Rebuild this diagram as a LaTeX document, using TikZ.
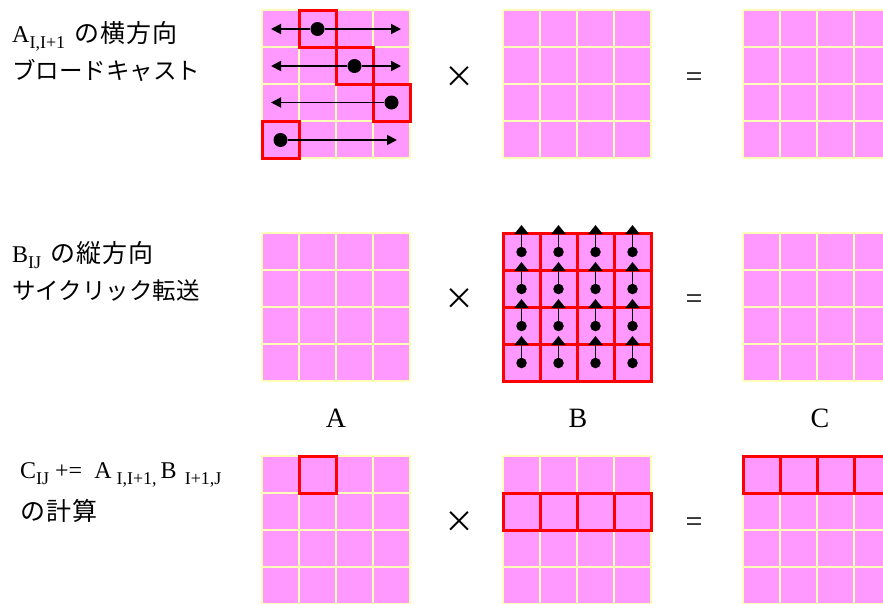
\documentclass[tikz,border=0pt]{standalone}
\usepackage{fontspec}
\setmainfont{Liberation Serif}
\newfontfamily\jp{Noto Sans CJK JP}
\newfontfamily\jpw[LetterSpace=5]{Noto Sans CJK JP}
\usetikzlibrary{arrows.meta}
\definecolor{cellpink}{HTML}{FF99FF}
\definecolor{gridyel}{HTML}{FFFFB8}
\definecolor{hired}{HTML}{FF0000}
\newcommand\lsub[1]{\raisebox{-6pt}{\fontsize{18}{18}\selectfont #1}}
\newcommand\pinkmat[2]{%
  \fill[cellpink] (#1,#2) rectangle ++(148,148);
  \foreach \k in {0,...,4} {
    \draw[gridl] (#1+37*\k,#2) -- ++(0,148);
    \draw[gridl] (#1,#2+37*\k) -- ++(148,0);
  }%
}
\tikzset{
  gridl/.style={draw=gridyel, line width=1.3pt},
  redbox/.style={draw=hired, line width=3pt},
  bigdot/.style={circle, fill=black, inner sep=0pt, minimum size=14pt},
  smalldot/.style={circle, fill=black, inner sep=0pt, minimum size=10.5pt},
  harrow/.style={-{Triangle[length=10pt,width=10pt]}, line width=1.8pt},
  varrow/.style={-{Triangle[length=9pt,width=14pt]}, line width=1.8pt},
  lbl/.style={font=\fontsize{28}{30}\selectfont, inner sep=0pt},
  optext/.style={inner sep=0pt},
  desc/.style={anchor=base west, inner sep=0pt, align=left},
}
\begin{document}
\begin{tikzpicture}[x=1pt,y=-1pt]
\useasboundingbox (0,0) rectangle (883,603);
\clip (0,0) rectangle (883,603);
\fill[white] (0,0) rectangle (883,603);
% ---------- matrices ----------
\foreach \yy in {10,233,456} {
  \pinkmat{262}{\yy}
  \pinkmat{503}{\yy}
  \pinkmat{743}{\yy}
}
% ---------- row 1: broadcast of A ----------
\draw[redbox] (299,10) rectangle (336,47);
\draw[redbox] (336,47) rectangle (373,84);
\draw[redbox] (373,84) rectangle (410,121);
\draw[redbox] (262,121) rectangle (299,158);
\node[bigdot] (d1) at (317.5,29) {};
\node[bigdot] (d2) at (354.5,66) {};
\node[bigdot] (d3) at (391.5,102.5) {};
\node[bigdot] (d4) at (280.5,140) {};
\coordinate (l1) at (271,29);  \coordinate (r1) at (401,29);
\coordinate (l2) at (271,66);  \coordinate (r2) at (401,66);
\coordinate (l3) at (271,102.5);
\coordinate (r4) at (397,140);
\draw[harrow] (d1) -- (l1);
\draw[harrow] (d1) -- (r1);
\draw[harrow] (d2) -- (l2);
\draw[harrow] (d2) -- (r2);
\draw[harrow] (d3) -- (l3);
\draw[harrow] (d4) -- (r4);
% ---------- row 2: cyclic shift of B ----------
\foreach \c in {0,...,3} {
  \foreach \r in {0,...,3} {
    \draw[redbox] (503+37*\c,233+37*\r) rectangle ++(37,37);
  }
}
\foreach \c in {0,...,3} {
  \foreach \r in {0,...,3} {
    \node[smalldot] (b\c\r) at (521.5+37*\c,252+37*\r) {};
    \coordinate (t\c\r) at (521.5+37*\c,225+37*\r);
    \draw[varrow] (b\c\r) -- (t\c\r);
  }
}
% ---------- row 3: computation ----------
\draw[redbox] (299,456) rectangle (336,493);
\foreach \c in {0,...,3} {
  \draw[redbox] (503+37*\c,493) rectangle ++(37,37);
  \draw[redbox] (743+37*\c,456) rectangle ++(37,37);
}
% ---------- operators ----------
\foreach \yy/\n in {77/1,299/2,522/3} {
  \node[optext, font=\jp\fontsize{30}{30}\selectfont] (x\n) at (459,\yy) {×};
}
\foreach \yy/\n in {80/1,302/2,525/3} {
  \node[optext, font=\fontsize{30}{30}\selectfont] (e\n) at (694,\yy) {=};
}
% ---------- matrix labels ----------
\node[lbl] (la) at (336,418) {A};
\node[lbl] (lb) at (578,418) {B};
\node[lbl] (lc) at (820,418) {C};
% ---------- descriptions ----------
\node[desc] (t1a) at (12,42) {\fontsize{24}{24}\selectfont A\lsub{I,I+1}\hspace{9pt}{\jpw\fontsize{25}{25}\selectfont の横方向}};
\node[desc] (t1b) at (12,79) {\jp\fontsize{23.5}{24}\selectfont ブロードキャスト};
\node[desc] (t2a) at (12,262) {\fontsize{24}{24}\selectfont B\lsub{IJ}\hspace{9pt}{\jpw\fontsize{25}{25}\selectfont の縦方向}};
\node[desc] (t2b) at (12,299) {\jp\fontsize{23.5}{24}\selectfont サイクリック転送};
\node[desc] (t3a) at (20,478) {\fontsize{24}{24}\selectfont C\lsub{IJ}\hspace{6pt}+=\hspace{12pt}A\hspace{5pt}\lsub{I,I+1,}\hspace{4pt}B\hspace{8pt}\lsub{I+1,J}};
\node[desc] (t3b) at (20,520) {\jpw\fontsize{25}{25}\selectfont の計算};
\end{tikzpicture}
\end{document}
